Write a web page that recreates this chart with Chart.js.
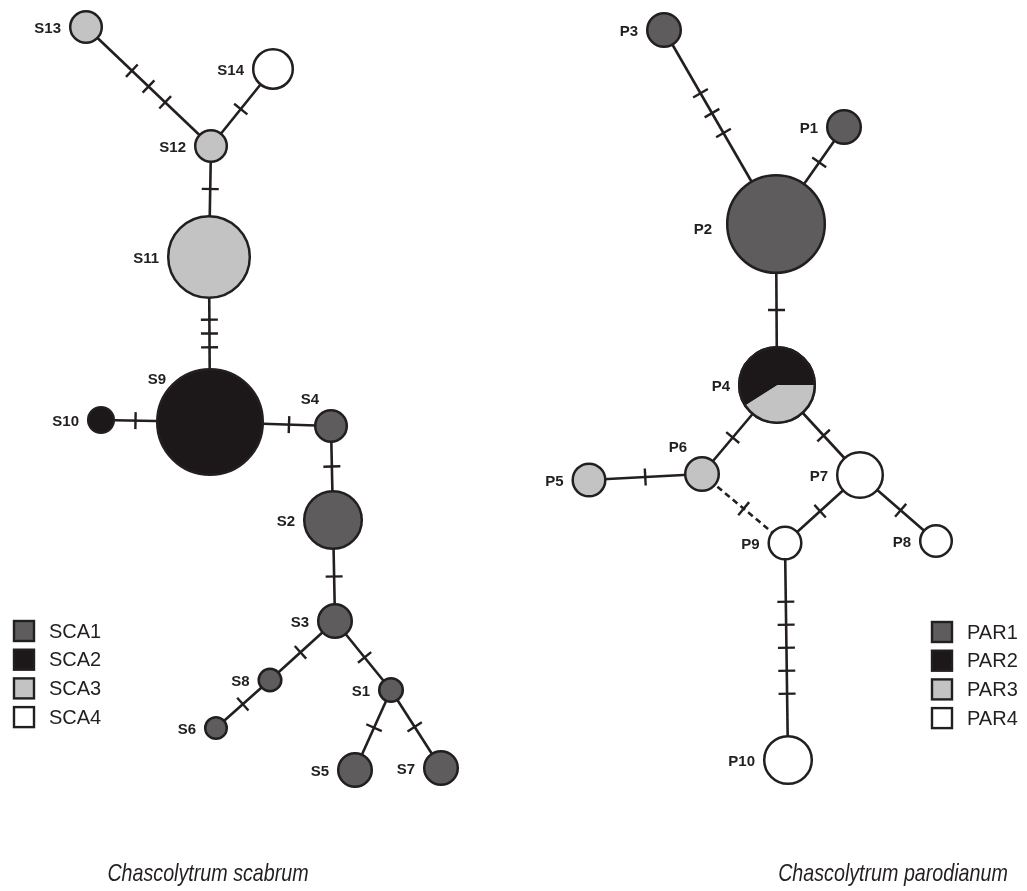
<!DOCTYPE html>
<html>
<head>
<meta charset="utf-8">
<script src="https://cdn.jsdelivr.net/npm/chart.js@4.4.1/dist/chart.umd.min.js"></script>
<style>
  html, body { margin: 0; padding: 0; background: #fff; }
  #wrap { width: 1027px; height: 891px; }
</style>
</head>
<body>
<div id="wrap"><canvas id="haploNet" width="1027" height="891"></canvas></div>
<script>

// haplotypes
const hapNames = ['S1','S2','S3','S4','S5','S6','S7','S8','S9','S10','S11','S12','S13','S14',
                  'P1','P2','P3','P4','P5','P6','P7','P8','P9','P10'];
const hapX = [391, 333, 335, 331, 355, 216, 441, 270, 210, 101, 209, 211, 86, 273,
              844, 776, 664, 777, 589, 702, 860, 936, 785, 788];
const hapY = [690, 520, 621, 426, 770, 728, 768, 680, 422, 420, 257, 146, 27, 69,
              127, 224, 30, 385, 480, 474, 475, 541, 543, 760];
const hapSize = [13, 30, 18, 17, 18, 12, 18, 12.5, 54, 14, 42, 17, 17, 21,
                 18, 50, 18, 39, 17.5, 18, 24, 17, 17.5, 25];
const hapGroup = ['SCA1','SCA1','SCA1','SCA1','SCA1','SCA1','SCA1','SCA1','SCA2','SCA2','SCA3','SCA3','SCA3','SCA4',
                  'PAR1','PAR1','PAR1','PAR2','PAR3','PAR3','PAR4','PAR4','PAR4','PAR4'];

// P4 is shared between two groups
const p4Groups = ['PAR3', 'PAR2'];
const p4Share = [0.41, 0.59];

// links: from, to, number of mutation steps, inferred (dashed)
const links = [
  ['S13','S12',3,false], ['S14','S12',1,false], ['S12','S11',1,false], ['S11','S9',3,false],
  ['S10','S9',1,false], ['S9','S4',1,false], ['S4','S2',1,false], ['S2','S3',1,false],
  ['S3','S8',1,false], ['S8','S6',1,false], ['S3','S1',1,false], ['S1','S5',1,false], ['S1','S7',1,false],
  ['P3','P2',3,false], ['P1','P2',1,false], ['P2','P4',1,false], ['P4','P6',1,false],
  ['P4','P7',1,false], ['P6','P5',1,false], ['P6','P9',1,true], ['P7','P9',1,false],
  ['P7','P8',1,false], ['P9','P10',5,false]
];

const scaGroups = ['SCA1','SCA2','SCA3','SCA4'];
const parGroups = ['PAR1','PAR2','PAR3','PAR4'];
const speciesNames = ['Chascolytrum scabrum', 'Chascolytrum parodianum'];

// styling
const ink = '#231f20';
const groupColor = {
  SCA1: '#5e5c5d', SCA2: '#1c1819', SCA3: '#c3c3c3', SCA4: '#ffffff',
  PAR1: '#5e5c5d', PAR2: '#1c1819', PAR3: '#c3c3c3', PAR4: '#ffffff'
};
const labelFont = 'bold 15px "Liberation Sans", Arial, sans-serif';
const labelPlace = {   // special label spots: [align, dx, dy] from node centre
  S9: ['center', -53, -42],
  S4: ['center', -21, -26],
  P6: ['center', -24, -26],
  P2: ['right', -64, 6]
};

const idx = name => hapNames.indexOf(name);

const nodeData = hapNames.map((n, i) => ({ x: hapX[i], y: hapY[i] }));

const edgeSets = links.map(l => ({
  data: [ { x: hapX[idx(l[0])], y: hapY[idx(l[0])] }, { x: hapX[idx(l[1])], y: hapY[idx(l[1])] } ],
  showLine: true,
  pointRadius: 0,
  borderColor: ink,
  borderWidth: 2.6,
  borderDash: l[3] ? [6, 4] : [],
  clip: false,
  order: 1
}));

const nodeSet = {
  data: nodeData,
  pointRadius: hapSize.map(r => r - 1.2),
  pointBackgroundColor: hapGroup.map(g => groupColor[g]),
  pointBorderColor: ink,
  pointBorderWidth: 2.5,
  clip: false,
  order: 0
};

// pie slices, mutation ticks, labels, legends, titles
const networkExtras = {
  id: 'networkExtras',
  afterDatasetsDraw(chart) {
    const ctx = chart.ctx;
    const pts = chart.getDatasetMeta(0).data;

    // split node P4
    const p = pts[idx('P4')];
    const r = hapSize[idx('P4')] - 1.2;
    let a = 0;
    ctx.save();
    p4Groups.forEach((g, k) => {
      const b = a + p4Share[k] * Math.PI * 2;
      ctx.beginPath();
      ctx.moveTo(p.x, p.y);
      ctx.arc(p.x, p.y, r, a, b);
      ctx.closePath();
      ctx.fillStyle = groupColor[g];
      ctx.fill();
      a = b;
    });
    ctx.beginPath();
    ctx.arc(p.x, p.y, r, 0, Math.PI * 2);
    ctx.lineWidth = 2.5;
    ctx.strokeStyle = ink;
    ctx.stroke();

    // mutation ticks
    ctx.lineWidth = 2.4;
    links.forEach(l => {
      const i1 = idx(l[0]), i2 = idx(l[1]);
      const p1 = pts[i1], p2 = pts[i2];
      const dx = p2.x - p1.x, dy = p2.y - p1.y;
      const len = Math.hypot(dx, dy);
      const ux = dx / len, uy = dy / len;
      const s = hapSize[i1], e = len - hapSize[i2];
      const mid = (s + e) / 2;
      const n = l[2];
      const step = Math.min(23, (e - s) / (n + 2));
      for (let k = 0; k < n; k++) {
        const t = mid + (k - (n - 1) / 2) * step;
        const cx = p1.x + ux * t, cy = p1.y + uy * t;
        ctx.beginPath();
        ctx.moveTo(cx - uy * 8.5, cy + ux * 8.5);
        ctx.lineTo(cx + uy * 8.5, cy - ux * 8.5);
        ctx.stroke();
      }
    });

    // haplotype labels
    ctx.font = labelFont;
    ctx.fillStyle = ink;
    ctx.textBaseline = 'middle';
    hapNames.forEach((n, i) => {
      const el = pts[i];
      const spot = labelPlace[n] || ['right', -(hapSize[i] + 8), 2];
      ctx.textAlign = spot[0];
      ctx.fillText(n, el.x + spot[1], el.y + spot[2]);
    });

    // legends
    const drawLegend = (groups, left, top) => {
      ctx.font = '20px "Liberation Sans", Arial, sans-serif';
      ctx.textAlign = 'left';
      groups.forEach((g, k) => {
        const y = top + k * 28.7;
        ctx.fillStyle = groupColor[g];
        ctx.fillRect(left, y - 10, 20, 20);
        ctx.lineWidth = 2.4;
        ctx.strokeStyle = ink;
        ctx.strokeRect(left, y - 10, 20, 20);
        ctx.fillStyle = ink;
        ctx.fillText(g, left + 35, y + 1);
      });
    };
    drawLegend(scaGroups, 14, 631);
    drawLegend(parGroups, 932, 632);

    // species titles (condensed italic)
    ctx.font = 'italic 24px "Liberation Sans", Arial, sans-serif';
    ctx.textAlign = 'center';
    ctx.fillStyle = ink;
    [208, 893].forEach((cx, k) => {
      ctx.save();
      ctx.translate(cx, 874);
      ctx.scale(0.82, 1);
      ctx.fillText(speciesNames[k], 0, 0);
      ctx.restore();
    });
    ctx.restore();
  }
};

const config = {
  type: 'scatter',
  data: { datasets: [nodeSet, ...edgeSets] },
  options: {
    responsive: false,
    animation: false,
    events: [],
    layout: { padding: 0, autoPadding: false },
    plugins: { legend: { display: false }, tooltip: { enabled: false } },
    scales: {
      x: { type: 'linear', min: 0, max: 1027, display: false },
      y: { type: 'linear', min: 0, max: 891, reverse: true, display: false }
    }
  },
  plugins: [networkExtras]
};

const haploChart = new Chart(document.getElementById('haploNet'), config);
</script>
</body>
</html>
